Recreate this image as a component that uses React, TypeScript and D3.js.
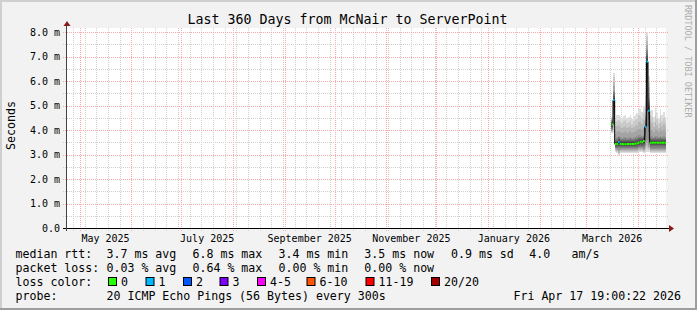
import React from 'react';
import * as d3 from 'd3';

const W = 697;
const H = 310;
const FONT = '"DejaVu Sans Mono", monospace';

const TITLE = 'Last 360 Days from McNair to ServerPoint';
const END_TIME = new Date(Date.UTC(2026, 3, 17, 19, 0, 22));
const RANGE_DAYS = 360;

const yTickValues = [0, 1, 2, 3, 4, 5, 6, 7, 8];
const yTickLabels = ['0.0', '1.0 m', '2.0 m', '3.0 m', '4.0 m', '5.0 m', '6.0 m', '7.0 m', '8.0 m'];
const xLabelMonths = ['2025-05-01', '2025-07-01', '2025-09-01', '2025-11-01', '2026-01-01', '2026-03-01'];
const xLabelTexts = ['May 2025', 'July 2025', 'September 2025', 'November 2025', 'January 2026', 'March 2026'];

// daily samples (ms): ping1 (min), ping5, median, ping16, ping20 (max), lost pings of 20
const sampleDates = [
  '2026-03-16', '2026-03-17', '2026-03-18', '2026-03-19', '2026-03-20', '2026-03-21', '2026-03-22',
  '2026-03-23', '2026-03-24', '2026-03-25', '2026-03-26', '2026-03-27', '2026-03-28', '2026-03-29',
  '2026-03-30', '2026-03-31', '2026-04-01', '2026-04-02', '2026-04-03', '2026-04-04', '2026-04-05',
  '2026-04-06', '2026-04-07', '2026-04-08', '2026-04-09', '2026-04-10', '2026-04-11', '2026-04-12',
  '2026-04-13', '2026-04-14', '2026-04-15', '2026-04-16', '2026-04-17',
];
const pingMin = [
  3.88, 3.88, 3.10, 3.05, 2.95, 3.05, 3.06, 3.06, 3.06, 3.06, 3.06, 3.06, 3.06, 3.06, 3.06, 3.08, 3.10,
  3.12, 3.10, 3.06, 3.06, 3.10, 3.10, 3.06, 3.06, 3.06, 3.06, 3.06, 3.06, 3.06, 3.06, 3.06, 3.06,
];
const pingLow = [
  4.00, 4.30, 3.25, 3.22, 3.20, 3.22, 3.22, 3.22, 3.22, 3.22, 3.22, 3.22, 3.22, 3.22, 3.22, 3.24, 3.26,
  3.28, 3.26, 3.24, 3.40, 3.60, 3.40, 3.24, 3.24, 3.24, 3.24, 3.24, 3.24, 3.24, 3.24, 3.24, 3.24,
];
const pingMedian = [
  4.23, 5.22, 3.43, 3.43, 3.50, 3.43, 3.43, 3.42, 3.42, 3.43, 3.43, 3.43, 3.43, 3.43, 3.44, 3.45, 3.48,
  3.52, 3.50, 3.55, 4.13, 6.79, 4.79, 3.48, 3.48, 3.48, 3.48, 3.48, 3.48, 3.48, 3.48, 3.48, 3.48,
];
const pingHigh = [
  4.35, 5.60, 3.65, 3.70, 3.75, 3.70, 3.68, 3.70, 3.72, 3.68, 3.70, 3.72, 3.68, 3.70, 3.72, 3.74, 3.78,
  3.78, 3.76, 3.80, 4.60, 7.30, 5.30, 3.72, 3.74, 3.70, 3.76, 3.74, 3.70, 3.76, 3.72, 3.74, 3.72,
];
const pingMax = [
  4.55, 6.34, 4.35, 4.60, 4.62, 4.55, 4.50, 4.58, 4.62, 4.48, 4.55, 4.62, 4.45, 4.58, 4.62, 4.70, 4.88,
  4.85, 4.75, 5.00, 5.63, 8.00, 6.20, 4.60, 4.80, 4.55, 4.90, 4.70, 4.50, 4.85, 4.60, 4.75, 4.55,
];
const lostPings = [
  0, 1, 0, 0, 1, 0, 0, 0, 0, 0, 0, 0, 0, 0, 0, 0, 0,
  0, 0, 0, 1, 1, 1, 0, 0, 0, 0, 0, 0, 0, 0, 0, 0,
];

const lossLabels = ['0', '1', '2', '3', '4-5', '6-10', '11-19', '20/20'];
const lossMax = [0, 1, 2, 3, 5, 10, 19, 20];
const lossColors = ['#26ff00', '#00b8ff', '#0059ff', '#7e00ff', '#ff00ff', '#ff5500', '#ff0000', '#a10000'];
const lossBoxX = [108, 145.5, 183, 219.5, 257, 306.5, 365.5, 431];

const rttLabel = 'median rtt:';
const rttItems = ['3.7 ms avg', '6.8 ms max', '3.4 ms min', '3.5 ms now', '0.9 ms sd', '4.0', 'am/s'];
const rttX = [106.5, 192.5, 278.5, 364.3, 451, 529.3, 571.5];
const lossLabel = 'packet loss:';
const lossItems = ['0.03 % avg', '0.64 % max', '0.00 % min', '0.00 % now'];
const lossX = [106.5, 192.5, 278.5, 364.3];
const colorLabel = 'loss color:';
const probeLabel = 'probe:';
const probeText = '20 ICMP Echo Pings (56 Bytes) every 300s';
const dateText = 'Fri Apr 17 19:00:22 2026';

const DAY = 86400000;

export default function App() {
  const startTime = new Date(END_TIME.getTime() - RANGE_DAYS * DAY);
  const x = d3.scaleUtc().domain([startTime, END_TIME]).range([66, 666]);
  const y = d3.scaleLinear().domain([0, 200 / 24.5]).range([228, 28]);

  const months = d3.utcMonth.range(startTime, END_TIME);
  const weeks = d3.utcSunday.range(startTime, END_TIME);
  const minorY = d3.range(0, 8.01, 0.5).filter((v) => v % 1 !== 0);

  const samples = sampleDates.map((ds, i) => {
    const t0 = new Date(ds + 'T00:00:00Z');
    const t1 = new Date(Math.min(t0.getTime() + DAY, END_TIME.getTime()));
    return {
      x0: x(t0), x1: x(t1),
      min: pingMin[i], low: pingLow[i], med: pingMedian[i], high: pingHigh[i], max: pingMax[i],
      loss: lostPings[i],
    };
  });

  // rank -> value along sorted pings, anchored at read values
  const rankValue = (s: any, r: number) => {
    const ranks = [1, 5, 10.5, 16, 20];
    const vals = [s.min, s.low, s.med, s.high, s.max];
    return d3.scaleLinear().domain(ranks).range(vals)(r);
  };

  const smoke: any[] = [];
  samples.forEach((s, si) => {
    for (let i = 1; i <= 10; i++) {
      const g = Math.floor((190 / 10) * (10 - i)) + 50;
      const col = d3.rgb(g, g, g).formatHex();
      const lo = rankValue(s, i);
      const hi = rankValue(s, 21 - i);
      smoke.push(
        <rect key={`s${si}-${i}`} x={s.x0} width={s.x1 - s.x0} y={y(hi)} height={y(lo) - y(hi)} fill={col} shapeRendering="crispEdges" />
      );
    }
  });

  // dark median step line
  let medPath = '';
  samples.forEach((s, i) => {
    medPath += (i === 0 ? `M${s.x0},${y(s.med)}` : `V${y(s.med)}`) + `H${s.x1}`;
  });

  const classOf = (l: number) => lossMax.findIndex((m) => l <= m);
  const colored = samples.map((s, k) => (
    <line key={`c${k}`} x1={s.x0} x2={s.x1} y1={y(s.med)} y2={y(s.med)} stroke={lossColors[classOf(s.loss)]} strokeWidth={2} />
  ));

  const txt = { fontFamily: FONT, fill: '#000' } as const;

  return (
    <svg width={W} height={H} style={{ position: 'absolute', left: 0, top: 0 }} xmlns="http://www.w3.org/2000/svg">
      <rect x={0} y={0} width={W} height={H} fill="#f2f2f2" />
      <rect x={0} y={0} width={W} height={2} fill="#cfcfcf" />
      <rect x={0} y={0} width={2} height={H} fill="#cfcfcf" />
      <rect x={0} y={H - 2} width={W} height={2} fill="#9e9e9e" />
      <rect x={W - 2} y={0} width={2} height={H} fill="#9e9e9e" />

      <text x={347.5} y={24} textAnchor="middle" fontSize={13.3} style={txt}>{TITLE}</text>
      <text transform="translate(684.5,5) rotate(90)" fontSize={8.5} fontFamily={FONT} fill="#acacac">RRDTOOL / TOBI OETIKER</text>

      <rect x={66} y={28} width={600} height={200} fill="#ffffff" />

      {/* minor grid */}
      <g stroke="#d0d0d0" strokeWidth={1} strokeDasharray="1,1" shapeRendering="crispEdges">
        {minorY.map((v) => <line key={`my${v}`} x1={63} x2={669} y1={Math.round(y(v)) + 0.5} y2={Math.round(y(v)) + 0.5} />)}
        {weeks.map((t) => <line key={`wk${+t}`} x1={Math.round(x(t)) + 0.5} x2={Math.round(x(t)) + 0.5} y1={28} y2={231} />)}
      </g>
      {/* major grid */}
      <g stroke="#ffaaaa" strokeWidth={1} strokeDasharray="1,1" shapeRendering="crispEdges">
        {yTickValues.filter((v) => v > 0).map((v) => <line key={`My${v}`} x1={63} x2={669} y1={Math.round(y(v)) + 0.5} y2={Math.round(y(v)) + 0.5} />)}
        {months.map((t) => <line key={`mo${+t}`} x1={Math.round(x(t)) + 0.5} x2={Math.round(x(t)) + 0.5} y1={28} y2={231} />)}
      </g>

      {/* smoke */}
      <g>{smoke}</g>
      <path d={medPath} fill="none" stroke="#000" strokeWidth={1} />
      <g>{colored}</g>

      {/* axes */}
      <line x1={63} x2={670} y1={228.5} y2={228.5} stroke="#000" strokeWidth={1} />
      <line x1={66.5} x2={66.5} y1={231} y2={25} stroke="#444" strokeWidth={1} />
      <path d="M63.5,26 L70.5,26 L67,21 Z" fill="#8b1a1a" />
      <path d="M669,225 L669,232 L674,228.5 Z" fill="#8b1a1a" />

      {/* y labels */}
      {yTickValues.map((v, k) => (
        <text key={`yl${v}`} x={60} y={y(v) + 3.5} textAnchor="end" fontSize={10} style={txt}>{yTickLabels[k]}</text>
      ))}
      <text transform="translate(14.5,125.5) rotate(-90)" textAnchor="middle" fontSize={11.6} style={txt}>Seconds</text>

      {/* x labels */}
      {xLabelMonths.map((m, k) => {
        const t0 = new Date(m + 'T00:00:00Z');
        const t1 = d3.utcMonth.offset(t0, 1);
        const cx = (x(t0) + x(t1)) / 2;
        return <text key={m} x={cx} y={241.5} textAnchor="middle" fontSize={10} style={txt}>{xLabelTexts[k]}</text>;
      })}

      {/* legend */}
      <g fontSize={11.6} style={txt}>
        <text x={15.5} y={258}>{rttLabel}</text>
        {rttItems.map((s, k) => <text key={`r${k}`} x={rttX[k]} y={258}>{s}</text>)}
        <text x={15.5} y={272}>{lossLabel}</text>
        {lossItems.map((s, k) => <text key={`l${k}`} x={lossX[k]} y={272}>{s}</text>)}
        <text x={15.5} y={286}>{colorLabel}</text>
        {lossLabels.map((s, k) => (
          <g key={`lc${k}`}>
            <rect x={lossBoxX[k] + 0.5} y={277.5} width={8} height={8} fill={lossColors[k]} stroke="#000" strokeWidth={1} />
            <text x={lossBoxX[k] + 13} y={286}>{s}</text>
          </g>
        ))}
        <text x={15.5} y={300}>{probeLabel}</text>
        <text x={106.5} y={300}>{probeText}</text>
        <text x={681} y={300} textAnchor="end">{dateText}</text>
      </g>
    </svg>
  );
}
